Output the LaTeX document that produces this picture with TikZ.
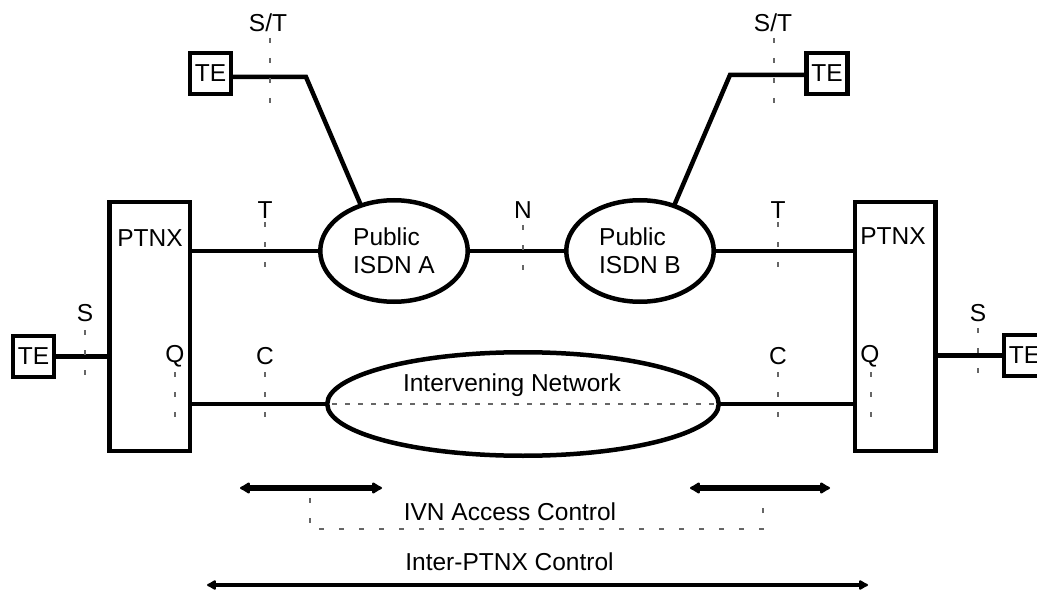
\documentclass[tikz,border=0pt]{standalone}
\usepackage{fontspec}
\setmainfont{Liberation Sans}
\usetikzlibrary{shapes.geometric,arrows.meta}
\begin{document}
\begin{tikzpicture}[x=1pt,y=-1pt,
 every node/.style={font=\fontsize{24.5}{28}\selectfont, inner sep=0pt, outer sep=0pt},
 box/.style={draw, line width=4.5pt, rectangle},
 tebox/.style={box, minimum size=41pt},
 ptnx/.style={box, minimum width=80.5pt, minimum height=248.5pt},
 net/.style={draw, line width=4.5pt, ellipse},
 link/.style={line width=4.5pt},
 refpt/.style={draw=black!60, line width=1.2pt, dash pattern=on 5pt off 15pt},
 refh/.style={draw=black!60, line width=1.2pt, dash pattern=on 5pt off 8pt},
 span/.style={line width=5.5pt, {Latex[round,length=12pt,width=14pt]}-{Latex[round,length=12pt,width=14pt]}},
 longspan/.style={line width=4.5pt, {Latex[round,length=11pt,width=12pt]}-{Latex[round,length=11pt,width=12pt]}},
]
\useasboundingbox (0,0) rectangle (1037,591);

% PTNX boxes
\node[ptnx] (lp) at (149.5,326.5) {};
\node[ptnx] (rp) at (895,326.5) {};
\node (lpl) at (150,238) {PTNX};
\node (rpl) at (893,236) {PTNX};
\node (lq) at (175,356) {Q};
\node (rq) at (870,356) {Q};

% TE boxes
\node[tebox] (te1) at (210.5,73.5) {TE};
\node[tebox] (te2) at (827,73.5) {TE};
\node[tebox] (te3) at (33.5,356.5) {TE};
\node[tebox] (te4) at (1024.5,355.5) {TE};

% networks
\node[net, minimum width=147.5pt, minimum height=101.5pt, align=left] (isa) at (394,251) {Public\\ISDN A};
\node[net, minimum width=147.5pt, minimum height=101.5pt, align=left] (isb) at (640,251) {Public\\ISDN B};
\node[net, minimum width=391.5pt, minimum height=103.5pt] (ivn) at (523,404) {};
\node (ivnl) at (512,385) {Intervening Network};

% reference point labels
\node (st1) at (268,23) {S/T};
\node (st2) at (773,23) {S/T};
\node (t1) at (265,210) {T};
\node (t2) at (778,210) {T};
\node (n) at (523,210) {N};
\node (s1) at (85,313) {S};
\node (s2) at (978,313) {S};
\node (c1) at (265,356) {C};
\node (c2) at (778,356) {C};

% connectors
\coordinate (k1) at (306,77);
\coordinate (k2) at (730,75);
\draw[link, line join=miter] (te1.east |- k1) -- (k1) -- (isa.126);
\draw[link, line join=miter] (te2.west |- k2) -- (k2) -- (isb.53);
\draw[link] (lp.east |- isa.west) -- (isa.west);
\draw[link] (isa.east) -- (isb.west);
\draw[link] (isb.east) -- (rp.west |- isb.east);
\draw[link] (lp.east |- ivn.west) -- (ivn.west);
\draw[link] (ivn.east) -- (rp.west |- ivn.east);
\draw[link] (te3.east) -- (lp.west |- te3.east);
\draw[link] (rp.east |- te4.west) -- (te4.west);

% reference point marks
\draw[refpt] (270,38) -- (270,104);
\draw[refpt] (774,38) -- (774,104);
\draw[refpt] (265,222) -- (265,270);
\draw[refpt] (778,222) -- (778,270);
\draw[refpt] (523,225) -- (523,270);
\draw[refpt] (85,330) -- (85,375);
\draw[refpt] (978,328) -- (978,373);
\draw[refpt] (175,372) -- (175,418);
\draw[refpt] (871,372) -- (871,418);
\draw[refpt] (265,372) -- (265,418);
\draw[refpt] (778,372) -- (778,418);
\draw[refh] ([xshift=5pt]ivn.west) -- ([xshift=-5pt]ivn.east);

% control spans
\coordinate (a1) at (240,488);
\coordinate (a2) at (382,488);
\coordinate (a3) at (690,488);
\coordinate (a4) at (830,488);
\coordinate (b1) at (207,585);
\coordinate (b2) at (868,585);
\draw[span] (a1) -- (a2);
\draw[span] (a3) -- (a4);
\draw[longspan] (b1) -- (b2);
\draw[refpt] (310,498) -- (310,529) -- (763,529) -- (763,498);
\node (ivnac) at (510,512) {IVN Access Control};
\node (inter) at (509.5,562) {Inter-PTNX Control};
\end{tikzpicture}
\end{document}
